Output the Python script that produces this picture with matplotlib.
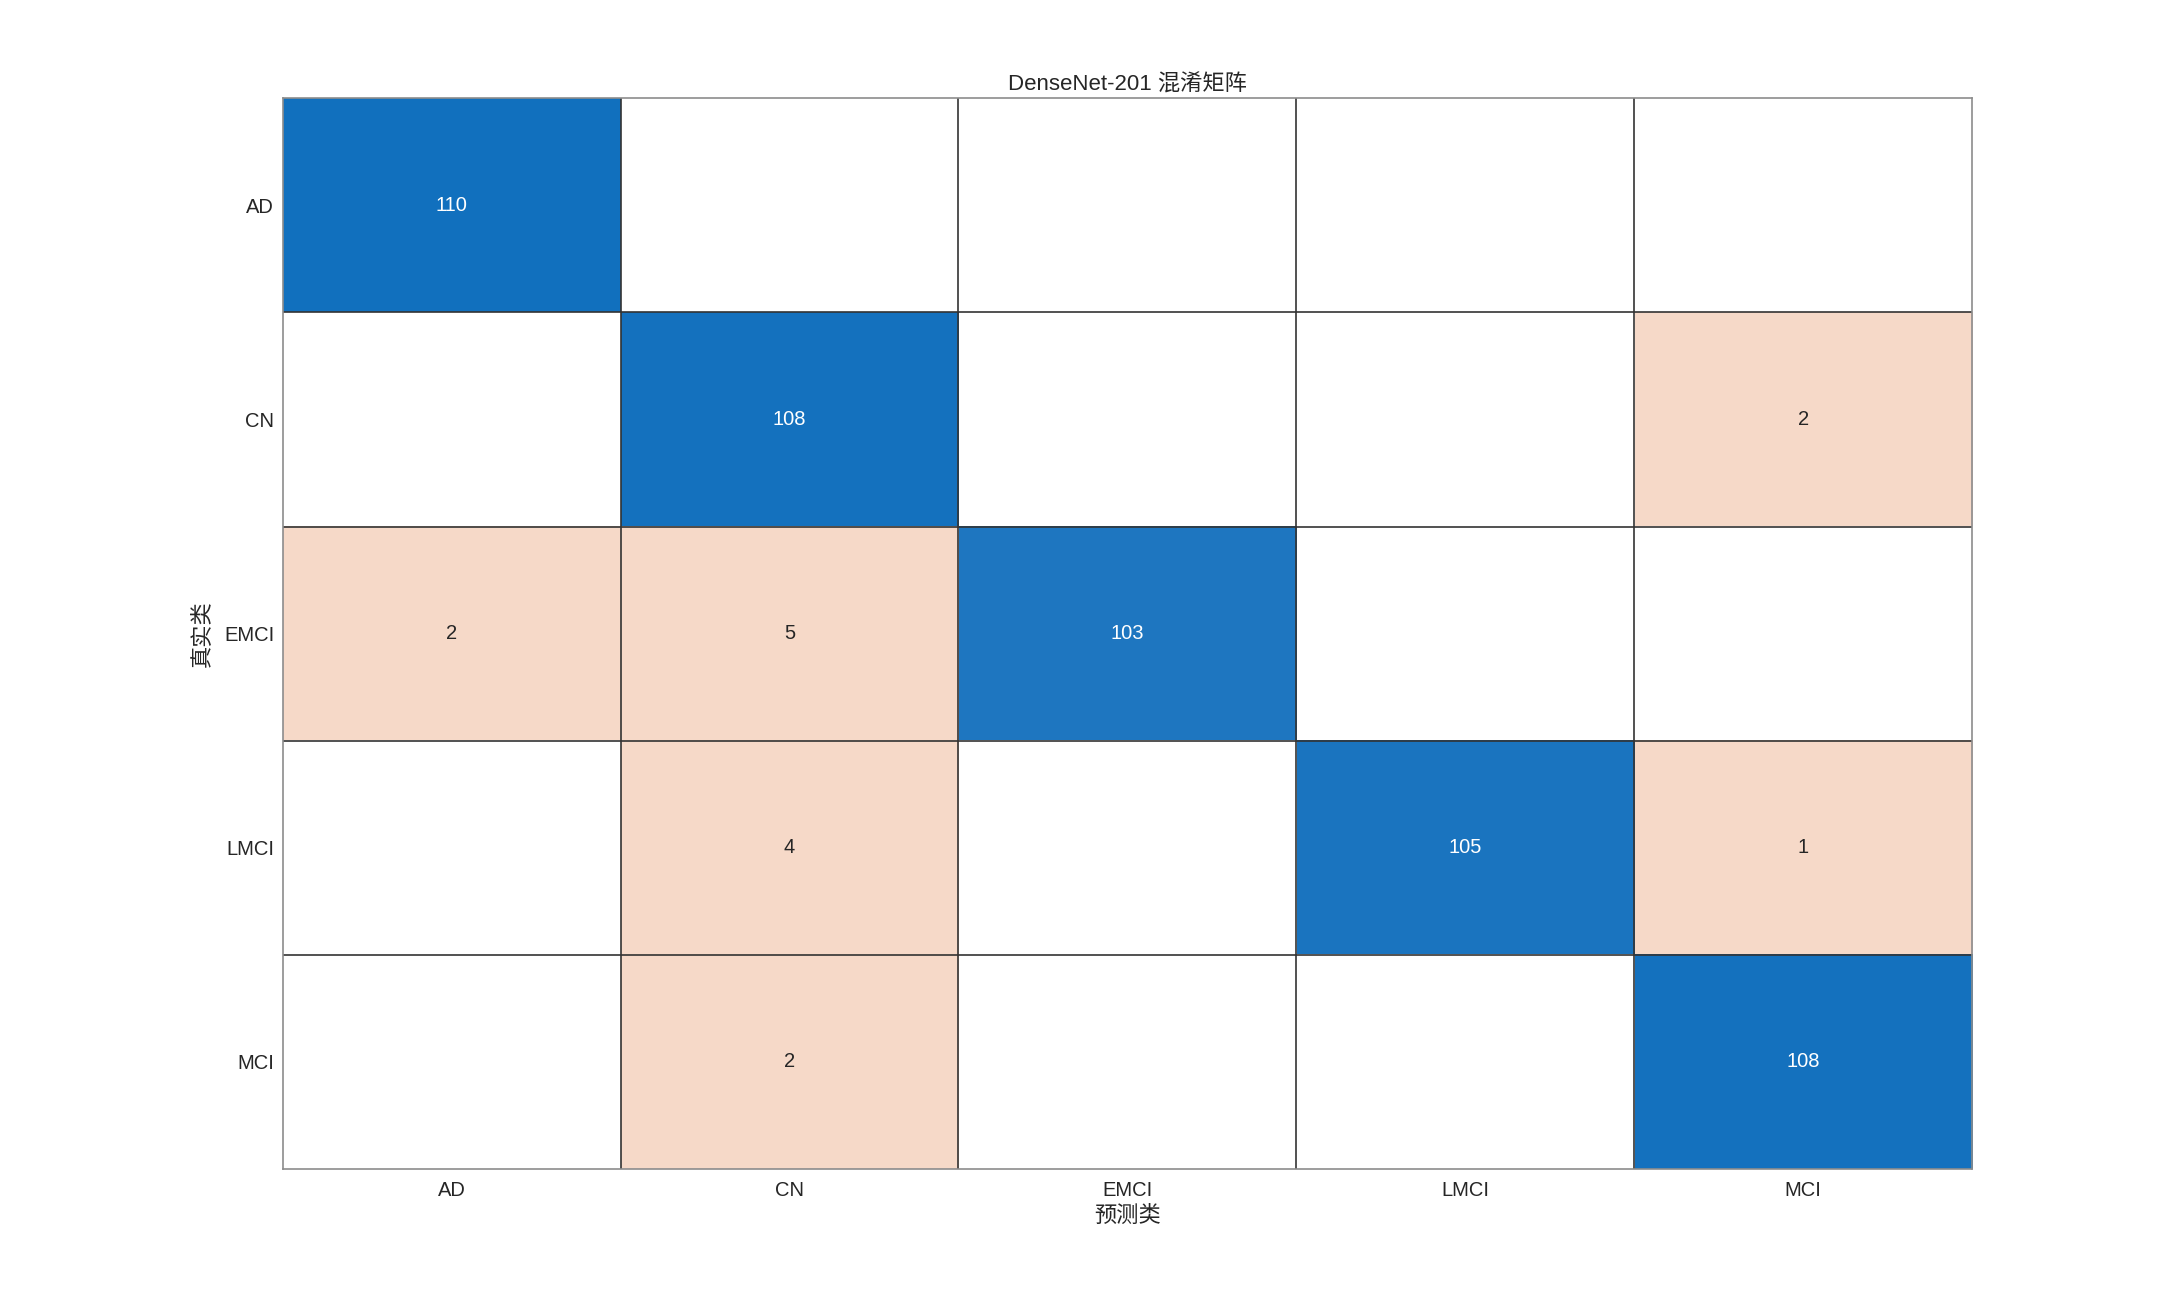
import numpy as np
import matplotlib
matplotlib.use("Agg")
import matplotlib.pyplot as plt
from matplotlib.colors import LinearSegmentedColormap, to_rgb

plt.rcParams['font.family'] = ['Liberation Sans', 'Noto Sans CJK SC', 'DejaVu Sans']

classes = ["AD", "CN", "EMCI", "LMCI", "MCI"]
# rows = true class, cols = predicted class
counts = np.array([
    [110, 0, 0, 0, 0],
    [0, 108, 0, 0, 2],
    [2, 5, 103, 0, 0],
    [0, 4, 0, 105, 1],
    [0, 2, 0, 0, 108],
])
title = "DenseNet-201 混淆矩阵"
xlabel = "预测类"
ylabel = "真实类"

n = len(classes)
diag_cmap = LinearSegmentedColormap.from_list("diag", ["#2479C2", "#1170BE"])
off_color = to_rgb("#F6D9C8")

img = np.ones((n, n, 3))
for i in range(n):
    for j in range(n):
        v = counts[i, j]
        if v == 0:
            continue
        if i == j:
            img[i, j] = diag_cmap(np.clip((v - 100) / 10, 0, 1))[:3]
        else:
            img[i, j] = off_color

fig = plt.figure(figsize=(21.79, 13.13), dpi=100)
ax = fig.add_axes([0.1297, 0.110, 0.7754, 0.815])
ax.imshow(img, aspect="auto", interpolation="nearest",
          extent=(-0.5, n - 0.5, n - 0.5, -0.5))

for k in range(1, n):
    ax.axhline(k - 0.5, color="#333333", lw=1.2)
    ax.axvline(k - 0.5, color="#333333", lw=1.2)

for i in range(n):
    for j in range(n):
        v = counts[i, j]
        if v == 0:
            continue
        ax.text(j, i, str(v), ha="center", va="center", fontsize=14.5,
                color="white" if i == j else "#262626")

ax.set_xticks(range(n), labels=classes)
ax.set_yticks(range(n), labels=classes)
ax.tick_params(length=0, labelsize=14.5, colors="#262626")
ax.tick_params(axis="x", pad=9)
ax.tick_params(axis="y", pad=6)
for s in ax.spines.values():
    s.set_color("#8c8c8c")
    s.set_linewidth(1.2)

ax.set_title(title, fontsize=16, color="#262626", pad=6)
ax.set_xlabel(xlabel, fontsize=16, color="#262626", labelpad=4)
ax.set_ylabel(ylabel, fontsize=16, color="#262626", labelpad=8)

fig.savefig("out.png", dpi=100, facecolor="white")
